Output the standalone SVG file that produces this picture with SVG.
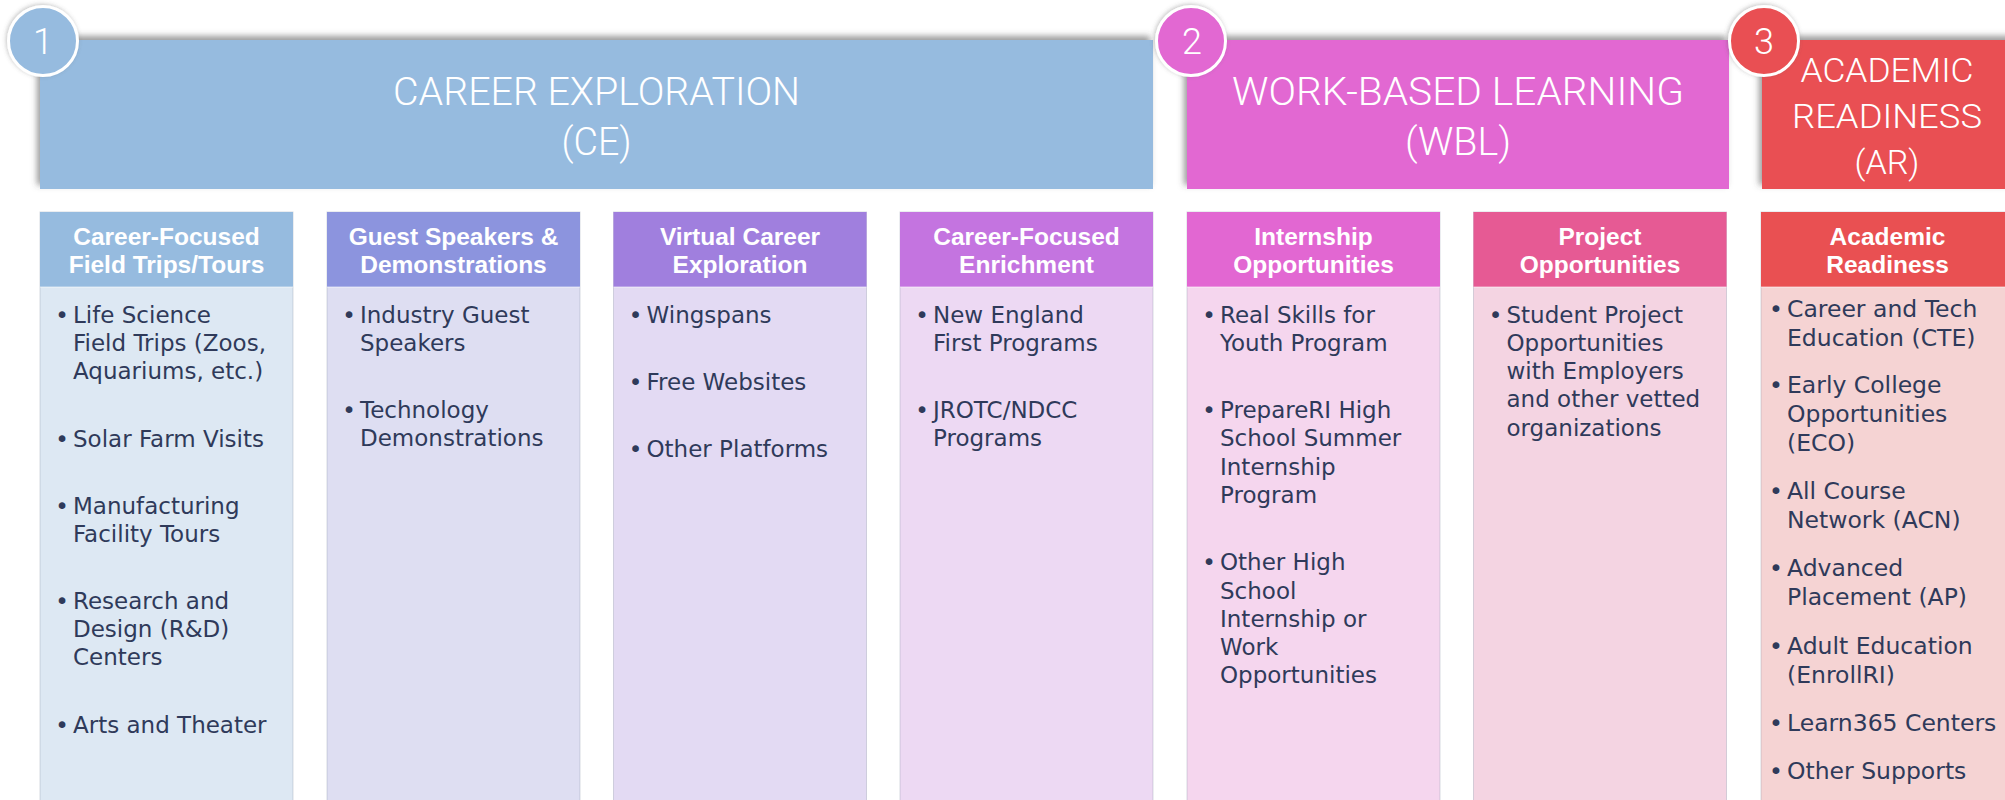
<svg xmlns="http://www.w3.org/2000/svg" width="2005" height="800" viewBox="0 0 2005 800">
<defs>
<filter id="hs" x="-5%" y="-20%" width="110%" height="140%">
<feDropShadow dx="-3" dy="-4" stdDeviation="3" flood-color="#4a4a4a" flood-opacity="0.55"/>
</filter>
<filter id="cs" x="-30%" y="-30%" width="160%" height="160%">
<feDropShadow dx="-1" dy="-1" stdDeviation="2" flood-color="#555" flood-opacity="0.35"/>
</filter>
<style>
.title{font-family:Roboto,"Liberation Sans",Arial,sans-serif;font-weight:300;fill:#fff;text-anchor:middle}
.num{font-family:Roboto,"Liberation Sans",Arial,sans-serif;font-weight:300;font-size:36px;fill:#fff;text-anchor:middle}
.circ{stroke:#fff;stroke-width:3}
.sh{font-family:"Liberation Sans",Arial,sans-serif;font-weight:bold;font-size:24.5px;fill:#fff;text-anchor:middle}
.b{font-family:"DejaVu Sans",Verdana,sans-serif;font-size:23px;fill:#2f3a5a}
.b7{font-family:"DejaVu Sans",Verdana,sans-serif;font-size:23.5px;fill:#2f3a5a}
.dot{text-anchor:middle}
.body{stroke:#8c96aa;stroke-opacity:0.35;stroke-width:1}
.sep{fill:#fff;fill-opacity:0.3}
</style>
</defs>
<rect width="2005" height="800" fill="#fff"/>

<g id="header-ce">
<rect x="40" y="40" width="1113" height="149" fill="#96bbdf" filter="url(#hs)"/>
<text class="title" font-size="39.5" x="596.5" y="104.5" textLength="407" lengthAdjust="spacingAndGlyphs">CAREER EXPLORATION</text>
<text class="title" font-size="39.5" x="596.5" y="154.5" textLength="70" lengthAdjust="spacingAndGlyphs">(CE)</text>
</g>
<g id="header-wbl">
<rect x="1187" y="40" width="542" height="149" fill="#e267d2" filter="url(#hs)"/>
<text class="title" font-size="39.5" x="1458" y="104.5" textLength="452" lengthAdjust="spacingAndGlyphs">WORK-BASED LEARNING</text>
<text class="title" font-size="39.5" x="1458" y="154.5" textLength="106" lengthAdjust="spacingAndGlyphs">(WBL)</text>
</g>
<g id="header-ar">
<rect x="1762" y="40" width="260" height="149" fill="#e95052" filter="url(#hs)"/>
<text class="title" font-size="33" x="1887" y="81.7" textLength="173" lengthAdjust="spacingAndGlyphs">ACADEMIC</text>
<text class="title" font-size="33" x="1887" y="128.3" textLength="190" lengthAdjust="spacingAndGlyphs">READINESS</text>
<text class="title" font-size="33" x="1887" y="174.3" textLength="65" lengthAdjust="spacingAndGlyphs">(AR)</text>
</g>

<g id="badge-1">
<circle class="circ" cx="43" cy="41" r="34.5" fill="#96bbdf" filter="url(#cs)"/>
<text class="num" x="43" y="53.5">1</text>
</g>
<g id="badge-2">
<circle class="circ" cx="1191" cy="41" r="34.5" fill="#e267d2" filter="url(#cs)"/>
<text class="num" x="1192" y="53.5">2</text>
</g>
<g id="badge-3">
<circle class="circ" cx="1764" cy="41" r="34.5" fill="#e95052" filter="url(#cs)"/>
<text class="num" x="1764" y="53.5">3</text>
</g>

<g id="col-field-trips">
<rect class="body" x="40" y="212" width="253" height="600" fill="#dde8f3"/>
<rect x="40" y="212" width="253" height="75" fill="#96bbdf"/>
<rect class="sep" x="40" y="286" width="253" height="2"/>
<text class="sh" x="166.5" y="245">Career-Focused</text>
<text class="sh" x="166.5" y="272.5">Field Trips/Tours</text>
<text class="b"><tspan class="dot" x="62" y="322.5">•</tspan><tspan x="73" y="322.5">Life Science</tspan><tspan x="73" y="350.8">Field Trips (Zoos,</tspan><tspan x="73" y="379.1">Aquariums, etc.)</tspan></text>
<text class="b"><tspan class="dot" x="62" y="446.5">•</tspan><tspan x="73" y="446.5">Solar Farm Visits</tspan></text>
<text class="b"><tspan class="dot" x="62" y="513.8">•</tspan><tspan x="73" y="513.8">Manufacturing</tspan><tspan x="73" y="542.1">Facility Tours</tspan></text>
<text class="b"><tspan class="dot" x="62" y="608.8">•</tspan><tspan x="73" y="608.8">Research and</tspan><tspan x="73" y="637.1">Design (R&amp;D)</tspan><tspan x="73" y="665.4">Centers</tspan></text>
<text class="b"><tspan class="dot" x="62" y="732.7">•</tspan><tspan x="73" y="732.7">Arts and Theater</tspan></text>
</g>

<g id="col-guest-speakers">
<rect class="body" x="327" y="212" width="253" height="600" fill="#dedef2"/>
<rect x="327" y="212" width="253" height="75" fill="#8c94de"/>
<rect class="sep" x="327" y="286" width="253" height="2"/>
<text class="sh" x="453.5" y="245">Guest Speakers &amp;</text>
<text class="sh" x="453.5" y="272.5">Demonstrations</text>
<text class="b"><tspan class="dot" x="349" y="322.5">•</tspan><tspan x="360" y="322.5">Industry Guest</tspan><tspan x="360" y="350.8">Speakers</tspan></text>
<text class="b"><tspan class="dot" x="349" y="418">•</tspan><tspan x="360" y="418">Technology</tspan><tspan x="360" y="446.3">Demonstrations</tspan></text>
</g>

<g id="col-virtual">
<rect class="body" x="613.5" y="212" width="253" height="600" fill="#e3daf3"/>
<rect x="613.5" y="212" width="253" height="75" fill="#a07fde"/>
<rect class="sep" x="613.5" y="286" width="253" height="2"/>
<text class="sh" x="740" y="245">Virtual Career</text>
<text class="sh" x="740" y="272.5">Exploration</text>
<text class="b"><tspan class="dot" x="635.5" y="322.5">•</tspan><tspan x="646.5" y="322.5">Wingspans</tspan></text>
<text class="b"><tspan class="dot" x="635.5" y="389.8">•</tspan><tspan x="646.5" y="389.8">Free Websites</tspan></text>
<text class="b"><tspan class="dot" x="635.5" y="457.1">•</tspan><tspan x="646.5" y="457.1">Other Platforms</tspan></text>
</g>

<g id="col-enrichment">
<rect class="body" x="900" y="212" width="253" height="600" fill="#edd9f3"/>
<rect x="900" y="212" width="253" height="75" fill="#c474e0"/>
<rect class="sep" x="900" y="286" width="253" height="2"/>
<text class="sh" x="1026.5" y="245">Career-Focused</text>
<text class="sh" x="1026.5" y="272.5">Enrichment</text>
<text class="b"><tspan class="dot" x="922" y="322.5">•</tspan><tspan x="933" y="322.5">New England</tspan><tspan x="933" y="350.8">First Programs</tspan></text>
<text class="b"><tspan class="dot" x="922" y="418">•</tspan><tspan x="933" y="418">JROTC/NDCC</tspan><tspan x="933" y="446.3">Programs</tspan></text>
</g>

<g id="col-internship">
<rect class="body" x="1187" y="212" width="253" height="600" fill="#f5d6ee"/>
<rect x="1187" y="212" width="253" height="75" fill="#e267d2"/>
<rect class="sep" x="1187" y="286" width="253" height="2"/>
<text class="sh" x="1313.5" y="245">Internship</text>
<text class="sh" x="1313.5" y="272.5">Opportunities</text>
<text class="b"><tspan class="dot" x="1209" y="322.5">•</tspan><tspan x="1220" y="322.5">Real Skills for</tspan><tspan x="1220" y="350.8">Youth Program</tspan></text>
<text class="b"><tspan class="dot" x="1209" y="418">•</tspan><tspan x="1220" y="418">PrepareRI High</tspan><tspan x="1220" y="446.3">School Summer</tspan><tspan x="1220" y="474.6">Internship</tspan><tspan x="1220" y="502.9">Program</tspan></text>
<text class="b"><tspan class="dot" x="1209" y="570.2">•</tspan><tspan x="1220" y="570.2">Other High</tspan><tspan x="1220" y="598.5">School</tspan><tspan x="1220" y="626.8">Internship or</tspan><tspan x="1220" y="655.1">Work</tspan><tspan x="1220" y="683.4">Opportunities</tspan></text>
</g>

<g id="col-project">
<rect class="body" x="1473.5" y="212" width="253" height="600" fill="#f4d4e2"/>
<rect x="1473.5" y="212" width="253" height="75" fill="#e65a94"/>
<rect class="sep" x="1473.5" y="286" width="253" height="2"/>
<text class="sh" x="1600" y="245">Project</text>
<text class="sh" x="1600" y="272.5">Opportunities</text>
<text class="b"><tspan class="dot" x="1495.5" y="322.5">•</tspan><tspan x="1506.5" y="322.5">Student Project</tspan><tspan x="1506.5" y="350.8">Opportunities</tspan><tspan x="1506.5" y="379.1">with Employers</tspan><tspan x="1506.5" y="407.4">and other vetted</tspan><tspan x="1506.5" y="435.7">organizations</tspan></text>
</g>

<g id="col-academic">
<rect class="body" x="1761" y="212" width="260" height="600" fill="#f5d3d3"/>
<rect x="1761" y="212" width="260" height="75" fill="#e95052"/>
<rect class="sep" x="1761" y="286" width="260" height="2"/>
<text class="sh" x="1887.5" y="245">Academic</text>
<text class="sh" x="1887.5" y="272.5">Readiness</text>
<text class="b7"><tspan class="dot" x="1776" y="316.5">•</tspan><tspan x="1787" y="316.5">Career and Tech</tspan><tspan x="1787" y="345.5">Education (CTE)</tspan></text>
<text class="b7"><tspan class="dot" x="1776" y="393">•</tspan><tspan x="1787" y="393">Early College</tspan><tspan x="1787" y="422">Opportunities</tspan><tspan x="1787" y="451">(ECO)</tspan></text>
<text class="b7"><tspan class="dot" x="1776" y="498.5">•</tspan><tspan x="1787" y="498.5">All Course</tspan><tspan x="1787" y="527.5">Network (ACN)</tspan></text>
<text class="b7"><tspan class="dot" x="1776" y="576">•</tspan><tspan x="1787" y="576">Advanced</tspan><tspan x="1787" y="605">Placement (AP)</tspan></text>
<text class="b7"><tspan class="dot" x="1776" y="653.5">•</tspan><tspan x="1787" y="653.5">Adult Education</tspan><tspan x="1787" y="682.5">(EnrollRI)</tspan></text>
<text class="b7"><tspan class="dot" x="1776" y="730.5">•</tspan><tspan x="1787" y="730.5">Learn365 Centers</tspan></text>
<text class="b7"><tspan class="dot" x="1776" y="778.5">•</tspan><tspan x="1787" y="778.5">Other Supports</tspan></text>
</g>

<g id="connectors"/>
</svg>
